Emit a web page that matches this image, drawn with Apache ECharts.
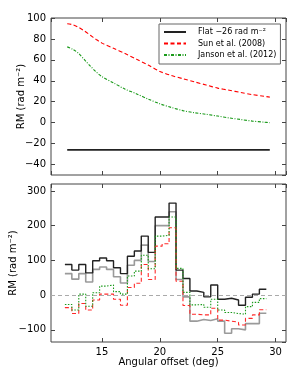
<!DOCTYPE html>
<html>
<head>
<meta charset="utf-8">
<script src="https://cdn.jsdelivr.net/npm/echarts@6/dist/echarts.min.js"></script>
<style>
html,body{margin:0;padding:0;background:#fff;}
#chart{width:295px;height:372px;}
</style>
</head>
<body>
<div id="chart"></div>
<script>
// ---- Top panel: foreground models ----
const modelX = [12, 12.5, 13, 13.5, 14, 14.5, 15, 16, 17, 18, 19, 20, 21, 22, 23, 24, 25, 26, 27, 28, 29, 29.5];
const sunRM = [94.5, 93.5, 91, 87.5, 83.5, 79.5, 76, 71, 66, 60.5, 55, 49, 45, 42, 39, 36, 33, 31, 28.8, 26.8, 25.2, 24.4];
const jansonRM = [72.4, 70, 66, 60, 54, 48.5, 44, 38, 32, 27.5, 22.5, 18, 14.5, 11.5, 9.5, 8, 6.3, 4.5, 3, 1.5, 0.5, 0];
const flatX = [12, 29.5];
const flatRM = [-26, -26];

// ---- Bottom panel: binned RM residuals ----
const binEdges = [11.8, 12.4, 13.0, 13.6, 14.2, 14.8, 15.4, 16.0, 16.6, 17.2, 17.8, 18.4, 19.0, 19.6, 20.2, 20.8, 21.4, 22.0, 22.6, 23.2, 23.8, 24.4, 25.0, 25.6, 26.2, 26.8, 27.4, 28.0, 28.6, 29.2];
const rmBlack = [88, 72, 88, 64, 99, 107, 99, 79, 62, 112, 127, 170, 123, 225, 225, 265, 72, 48, 12, 8, -5, 29, -12, -9, -14, -29, -6, 3, 17];
const rmGray = [62, 46, 62, 38, 74, 81, 74, 53, 35, 86, 100, 144, 97, 200, 200, 240, 45, -5, -75, -70, -73, -68, -75, -110, -97, -100, -82, -82, -52];
const rmSun = [-36, -53, -24, -43, -14, 3, 3, -12, -29, 22, 34, 88, 45, 141, 148, 194, 40, -30, -55, -57, -57, -38, -72, -75, -78, -86, -67, -57, -42];
const rmJanson = [-27, -43, 3, -32, 7, 26, 29, 10, 3, 55, 69, 115, 76, 170, 172, 225, 77, 8, -28, -27, -35, -12, -43, -50, -53, -55, -33, -21, -10];

const legendNames = ['Flat \u221226 rad m\u207B\u00B2', 'Sun et al. (2008)', 'Janson et al. (2012)'];
const yName = 'RM (rad m\u207B\u00B2)';
const xName = 'Angular offset (deg)';

const FONT = 'DejaVu Sans';
const FRAME = '#444';

function pairs(xs, ys) { return xs.map((x, i) => [x, ys[i]]); }
function steps(vals) {
  const d = vals.map((v, i) => [binEdges[i], v]);
  d.push([binEdges[binEdges.length - 1], vals[vals.length - 1]]);
  return d;
}
const minus = v => String(v).replace('-', '\u2212');

const tick = {show: true, inside: true, length: 4, lineStyle: {color: FRAME, width: 1}};
function xAx(grid, pos, labels, name) {
  return {
    type: 'value', gridIndex: grid, position: pos, min: 10.6, max: 30.9, splitNumber: 4,
    axisLine: {show: false, onZero: false}, axisTick: tick, splitLine: {show: false},
    axisLabel: {show: labels, color: '#000', fontFamily: FONT, fontSize: 10, margin: 5,
      showMinLabel: false, showMaxLabel: false, formatter: minus},
    name: name || '', nameLocation: 'middle', nameGap: 15, nameMoveOverlap: false,
    nameTextStyle: {color: '#000', fontFamily: FONT, fontSize: 10}
  };
}
function yAx(grid, pos, labels, min, max, split, gap, showMax) {
  return {
    type: 'value', gridIndex: grid, position: pos, min: min, max: max, splitNumber: split,
    axisLine: {show: false, onZero: false}, axisTick: tick, splitLine: {show: false},
    axisLabel: {show: labels, color: '#000', fontFamily: FONT, fontSize: 10, margin: 5,
      showMinLabel: false, showMaxLabel: !!showMax, formatter: minus},
    name: labels ? yName : '', nameLocation: 'middle', nameGap: gap || 30, nameRotate: 90,
    nameMoveOverlap: false,
    nameTextStyle: {color: '#000', fontFamily: FONT, fontSize: 10}
  };
}

const chart = echarts.init(document.getElementById('chart'), null, {renderer: 'canvas'});
chart.setOption({
  animation: false,
  backgroundColor: '#fff',
  grid: [
    {left: 51, right: 9, top: 18, height: 157, show: true, borderColor: FRAME, borderWidth: 1, backgroundColor: 'transparent'},
    {left: 51, right: 9, top: 184, height: 158, show: true, borderColor: FRAME, borderWidth: 1, backgroundColor: 'transparent'}
  ],
  xAxis: [
    xAx(0, 'bottom', false),
    xAx(0, 'top', false),
    xAx(1, 'bottom', true, xName),
    xAx(1, 'top', false)
  ],
  yAxis: [
    yAx(0, 'left', true, -50, 100, 7, 25, true),
    yAx(0, 'right', false, -50, 100, 7),
    yAx(1, 'left', true, -135, 320, 5, 33, false),
    yAx(1, 'right', false, -135, 320, 5)
  ],
  legend: {
    data: legendNames,
    orient: 'vertical', left: 159, top: 24,
    padding: [4, 4, 5, 4],
    itemWidth: 22, itemHeight: 8, itemGap: 3.5,
    itemStyle: {opacity: 0},
    backgroundColor: '#fff', borderColor: '#666', borderWidth: 1, borderRadius: 0,
    textStyle: {color: '#000', fontFamily: FONT, fontSize: 8, padding: [0, 0, 0, 7]}
  },
  series: [
    {name: legendNames[0], type: 'line', xAxisIndex: 0, yAxisIndex: 0, data: pairs(flatX, flatRM),
      symbol: 'none', lineStyle: {color: '#222', width: 1.6}, itemStyle: {color: '#222'}},
    {name: legendNames[1], type: 'line', xAxisIndex: 0, yAxisIndex: 0, data: pairs(modelX, sunRM),
      smooth: 0.3, symbol: 'none', lineStyle: {color: '#ff0000', width: 1.1, type: [4, 2.5]}, itemStyle: {color: '#ff0000'}},
    {name: legendNames[2], type: 'line', xAxisIndex: 0, yAxisIndex: 0, data: pairs(modelX, jansonRM),
      smooth: 0.3, symbol: 'none', lineStyle: {color: '#1a9a1a', width: 1.1, type: [3, 1.5, 1, 1.5]}, itemStyle: {color: '#1a9a1a'}},

    {name: 'zero', type: 'line', xAxisIndex: 2, yAxisIndex: 2, data: [], symbol: 'none',
      markLine: {silent: true, symbol: 'none', label: {show: false},
        lineStyle: {color: '#aaa', type: [4, 3], width: 1}, data: [{yAxis: 0}]}},
    {name: 'gray', type: 'line', xAxisIndex: 2, yAxisIndex: 2, data: steps(rmGray), step: 'end',
      symbol: 'none', lineStyle: {color: '#9a9a9a', width: 1.6}},
    {name: 'black', type: 'line', xAxisIndex: 2, yAxisIndex: 2, data: steps(rmBlack), step: 'end',
      symbol: 'none', lineStyle: {color: '#222', width: 1.4}},
    {name: 'sunres', type: 'line', xAxisIndex: 2, yAxisIndex: 2, data: steps(rmSun), step: 'end',
      symbol: 'none', lineStyle: {color: '#ff2a2a', width: 1.1, type: [4, 2.5]}},
    {name: 'jansonres', type: 'line', xAxisIndex: 2, yAxisIndex: 2, data: steps(rmJanson), step: 'end',
      symbol: 'none', lineStyle: {color: '#1a9a1a', width: 1.1, type: [1.5, 1.5]}}
  ]
});
</script>
</body>
</html>
